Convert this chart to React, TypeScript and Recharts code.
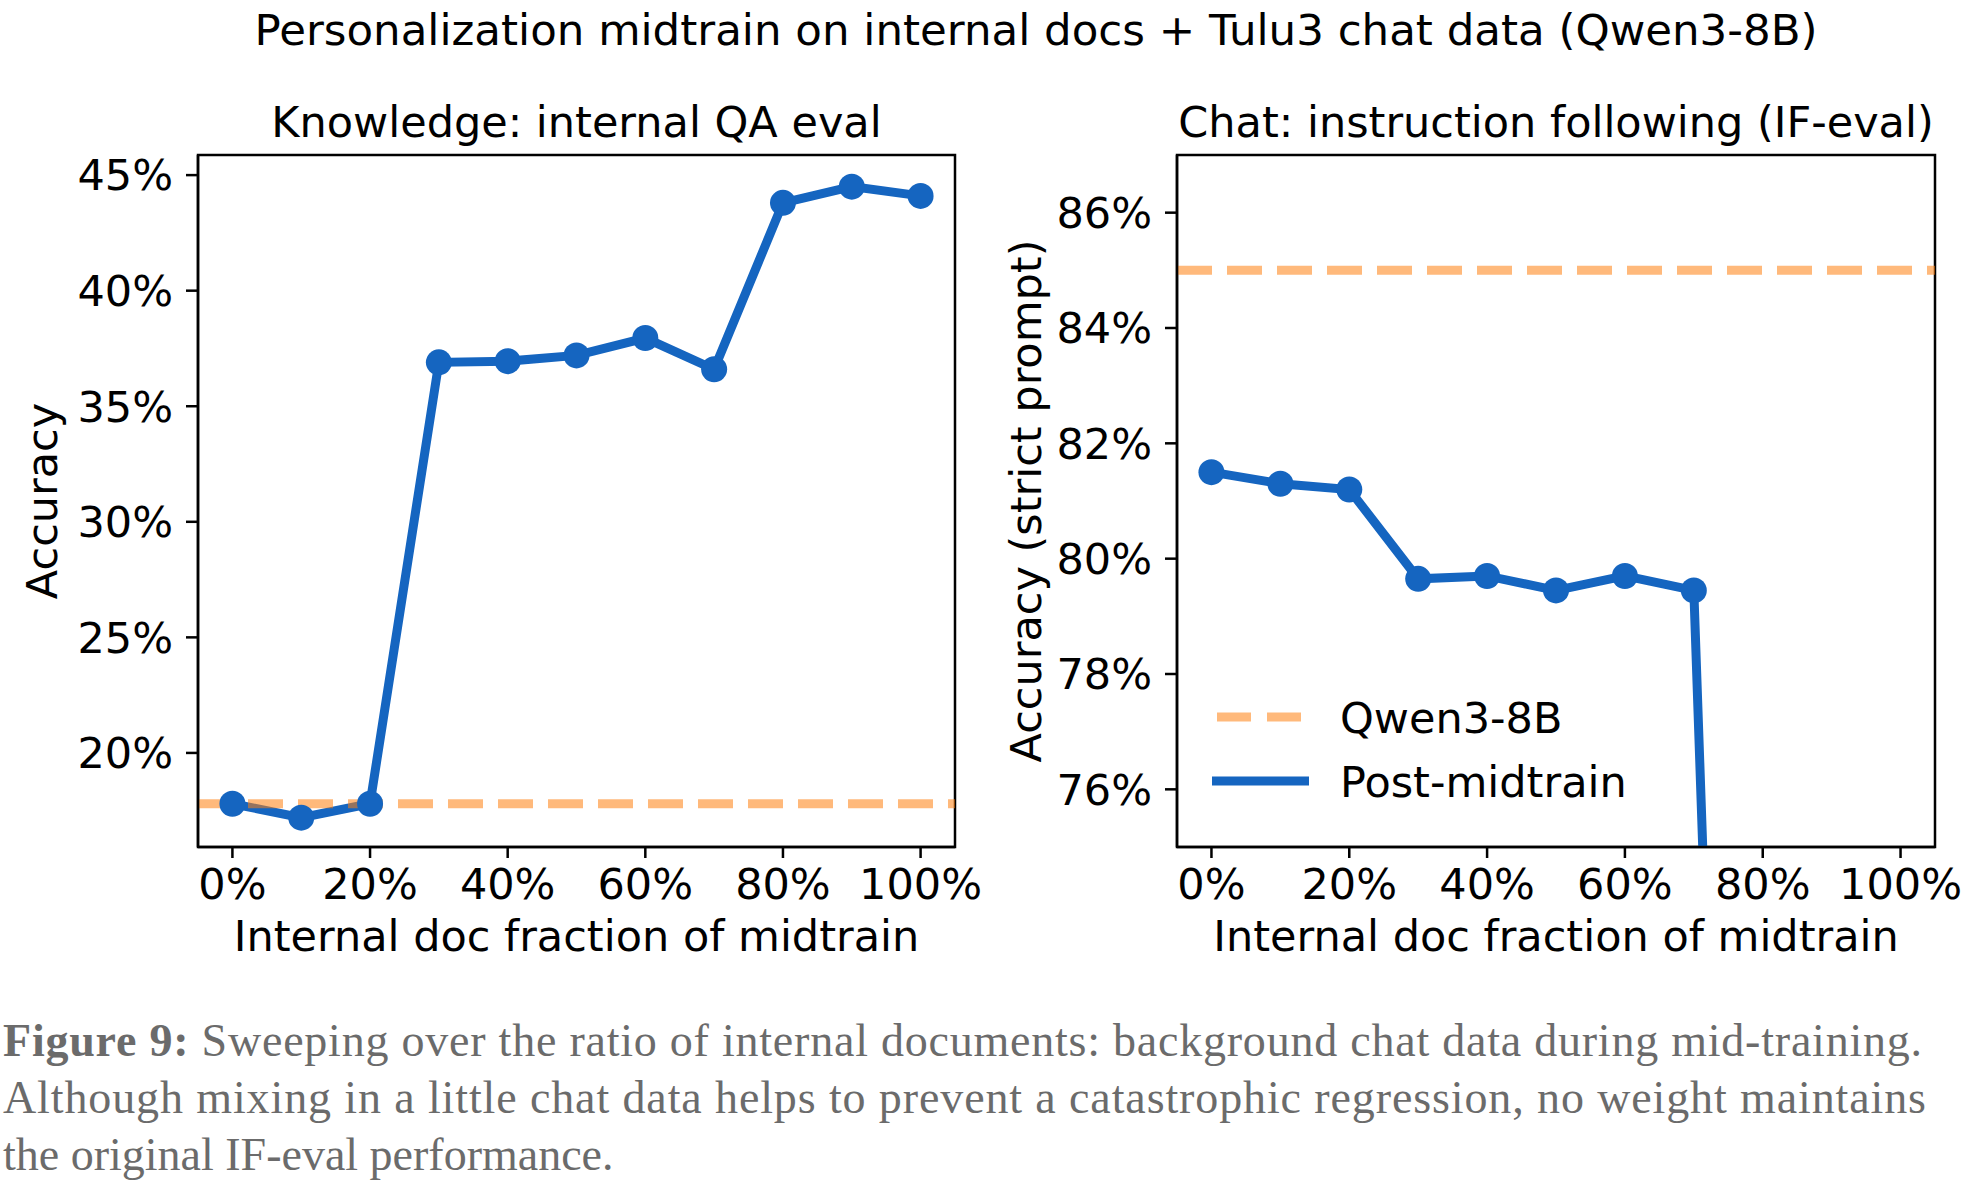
import React from "react";
import {Label, Legend, Line, LineChart, ReferenceArea, ReferenceLine, XAxis, YAxis} from "recharts";

// x: share of internal docs in the midtrain mix (%)
const fractions = [0, 10, 20, 30, 40, 50, 60, 70, 80, 90, 100];
// left panel: internal QA accuracy (%)
const knowledgeAcc = [17.8, 17.2, 17.8, 36.9, 36.95, 37.2, 37.95, 36.6, 43.8, 44.5, 44.1];
// right panel: IF-eval strict prompt accuracy (%); the last three fall far below the plotted range
const ifevalAcc = [81.5, 81.3, 81.2, 79.65, 79.7, 79.45, 79.7, 79.45, 45.0, 45.8, 44.6];
const knowledgeBase = 17.8;
const ifevalBase = 85.0;

const xDomain: [number, number] = [-5, 105];
const xTicks = [0, 20, 40, 60, 80, 100];
const knowledgeTicks = [20, 25, 30, 35, 40, 45];
const ifevalTicks = [76, 78, 80, 82, 84, 86];

const BLUE = "#1565C0";
const ORANGE = "#ff7f0e";
const FONT = "DejaVu Sans";

const captionLines = [
    "Sweeping over the ratio of internal documents: background chat data during mid-training.",
    "Although mixing in a little chat data helps to prevent a catastrophic regression, no weight maintains",
    "the original IF-eval performance.",
];

const legendItems = [
    {name: "Qwen3-8B", color: ORANGE, dashed: true},
    {name: "Post-midtrain", color: BLUE, dashed: false},
];

const knowledgeData = fractions.map((f, i) => ({frac: f, acc: knowledgeAcc[i]}));
const ifevalData = fractions.map((f, i) => ({frac: f, acc: ifevalAcc[i]}));

const tickStyle = {fontSize: 43, fill: "#000", fontFamily: FONT};
const axisLine = {stroke: "#000", strokeWidth: 2.5};
const textStyle = {fontSize: 43, fill: "#000", fontFamily: FONT};

function LegendBox() {
    return (
        <svg width={520} height={150}>
            {legendItems.map((it, i) => (
                <g key={it.name}>
                    <line
                        x1={it.dashed ? 17 : 12}
                        x2={it.dashed ? 101 : 109}
                        y1={47 + i * 64}
                        y2={47 + i * 64}
                        stroke={it.color}
                        strokeOpacity={it.dashed ? 0.55 : 1}
                        strokeWidth={9}
                        strokeDasharray={it.dashed ? "34 16" : undefined}
                    />
                    <text x={140} y={63 + i * 64} fontSize={43} fontFamily={FONT} fill="#000">
                        {it.name}
                    </text>
                </g>
            ))}
        </svg>
    );
}

type PanelProps = {
    data: {frac: number; acc: number}[];
    base: number;
    domain: [number, number];
    ticks: number[];
    title: string;
    yLabel: string;
    yAxisWidth: number;
    width: number;
    right: number;
    yLabelDx: number;
    legend?: boolean;
};

function Panel(p: PanelProps) {
    return (
        <LineChart width={p.width} height={1000} data={p.data}
                   margin={{top: 155, right: p.right, bottom: 53, left: 0}}>
            <XAxis dataKey="frac" type="number" domain={xDomain} ticks={xTicks} allowDataOverflow
                   tickFormatter={(v) => `${v}%`} tick={tickStyle} tickSize={11} tickMargin={10}
                   tickLine={axisLine} axisLine={axisLine} height={100}>
                <Label value="Internal doc fraction of midtrain" position="center" dy={39} style={textStyle}/>
            </XAxis>
            <YAxis type="number" domain={p.domain} ticks={p.ticks} allowDataOverflow width={p.yAxisWidth}
                   tickFormatter={(v) => `${v}%`} tick={tickStyle} tickSize={12} tickMargin={13}
                   tickLine={axisLine} axisLine={axisLine}>
                <Label value={p.yLabel} angle={-90} position="center" dx={p.yLabelDx}
                       style={{...textStyle, textAnchor: "middle"}}/>
            </YAxis>
            {/* axes frame + panel title */}
            <ReferenceArea x1={xDomain[0]} x2={xDomain[1]} y1={p.domain[0]} y2={p.domain[1]}
                           fill="none" fillOpacity={0} stroke="#000" strokeWidth={2.5} ifOverflow="visible">
                <Label value={p.title} position="top" offset={18} style={textStyle}/>
            </ReferenceArea>
            <Line dataKey="acc" stroke={BLUE} strokeWidth={9} isAnimationActive={false}
                  dot={{r: 13, fill: BLUE, stroke: BLUE, strokeWidth: 0}} activeDot={false}/>
            <ReferenceLine y={p.base} stroke={ORANGE} strokeOpacity={0.55} strokeWidth={9}
                           strokeDasharray="35 15"/>
            {p.legend && (
                <Legend layout="horizontal" verticalAlign="middle" align="center"
                        wrapperStyle={{position: "absolute", left: 220, top: 670, width: 520}}
                        content={() => <LegendBox/>}/>
            )}
        </LineChart>
    );
}

export default function App() {
    return (
        <div style={{position: "absolute", left: 0, top: 0, width: 1963, height: 1181, background: "#fff"}}>
            <svg width={1963} height={1181} style={{position: "absolute", left: 0, top: 0}}>
                <text x={1036} y={45} textAnchor="middle" fontSize={43.5} fontFamily={FONT} fill="#000">
                    Personalization midtrain on internal docs + Tulu3 chat data (Qwen3-8B)
                </text>
                <text x={3} y={1056} fontSize={46} fontFamily="Liberation Serif" fill="#6b6b6b"
                      textLength={1919} lengthAdjust="spacing">
                    <tspan fontWeight="bold">Figure 9:</tspan> {captionLines[0]}
                </text>
                <text x={3} y={1113} fontSize={46} fontFamily="Liberation Serif" fill="#6b6b6b"
                      textLength={1923} lengthAdjust="spacing">
                    {captionLines[1]}
                </text>
                <text x={3} y={1170} fontSize={46} fontFamily="Liberation Serif" fill="#6b6b6b">
                    {captionLines[2]}
                </text>
            </svg>
            <div style={{position: "absolute", left: 0, top: 0}}>
                <Panel data={knowledgeData} base={knowledgeBase} domain={[15.93, 45.87]} ticks={knowledgeTicks}
                       title="Knowledge: internal QA eval" yLabel="Accuracy" yAxisWidth={198}
                       width={1010} right={55} yLabelDx={-57}/>
            </div>
            <div style={{position: "absolute", left: 980, top: 0}}>
                <Panel data={ifevalData} base={ifevalBase} domain={[75, 87]} ticks={ifevalTicks}
                       title="Chat: instruction following (IF-eval)" yLabel="Accuracy (strict prompt)"
                       yAxisWidth={197} width={983} right={28} yLabelDx={-53} legend/>
            </div>
        </div>
    );
}
